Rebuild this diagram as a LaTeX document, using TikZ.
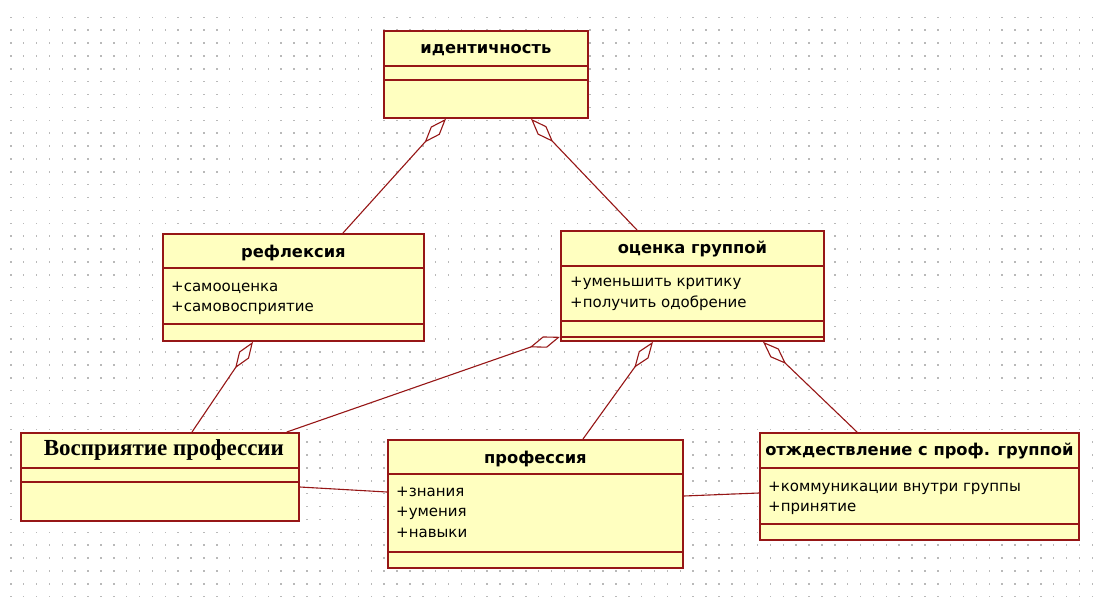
\documentclass[tikz,border=0pt]{standalone}
\usepackage{fontspec}
\setmainfont{DejaVu Sans}
\newfontfamily\serifttl{Liberation Serif}
\usetikzlibrary{arrows.meta,calc}
\definecolor{boxfill}{RGB}{255,255,192}
\definecolor{boxline}{RGB}{150,22,22}
\definecolor{dotc}{RGB}{185,185,185}
\begin{document}
\begin{tikzpicture}[x=1pt,y=-1pt,
  umlbox/.style={draw=boxline, fill=boxfill, line width=1.8pt, rectangle, anchor=north west, inner sep=0pt},
  sepline/.style={draw=boxline, line width=1.5pt},
  ttl/.style={font=\bfseries\fontsize{16.3}{19}\selectfont, inner sep=0pt},
  sttl/.style={font=\serifttl\bfseries\fontsize{23}{27}\selectfont, inner sep=0pt},
  attr/.style={font=\fontsize{15}{18}\selectfont, anchor=base west, inner sep=0pt},
  agg/.style={draw=boxline, line width=1.1pt, {Diamond[fill=white, length=32pt, width=12pt]}-},
  link/.style={draw=boxline, line width=1.1pt}]
\useasboundingbox (0,0) rectangle (1093,603);
\fill[white] (0,0) rectangle (1093,603);
% grid dots
\foreach \i in {0,...,84}{
  \foreach \j in {0,...,45}{
    \fill[dotc] ({10+\i*12.875},{16.6+\j*12.875}) rectangle +(1.5,1.5);
  }
}
% identity
\node[umlbox, minimum width=204pt, minimum height=87pt] (ident) at (383,30) {};
\draw[sepline] ([yshift=-36pt]ident.north west) -- ([yshift=-36pt]ident.north east);
\draw[sepline] ([yshift=-50pt]ident.north west) -- ([yshift=-50pt]ident.north east);
\node[ttl] (identT) at ([yshift=-20pt]ident.north) {идентичность};
% reflexia
\node[umlbox, minimum width=261pt, minimum height=107pt] (refl) at (162,233) {};
\draw[sepline] ([yshift=-35pt]refl.north west) -- ([yshift=-35pt]refl.north east);
\draw[sepline] ([yshift=-91pt]refl.north west) -- ([yshift=-91pt]refl.north east);
\node[ttl] (reflT) at ([yshift=-20pt]refl.north) {рефлексия};
\node[attr] (reflA) at ([xshift=9pt,yshift=-58.5pt]refl.north west) {+самооценка};
\node[attr] (reflB) at ([xshift=9pt,yshift=-78.5pt]refl.north west) {+самовосприятие};
% ocenka
\node[umlbox, minimum width=263pt, minimum height=110pt] (ocenka) at (560,230) {};
\draw[sepline] ([yshift=-36pt]ocenka.north west) -- ([yshift=-36pt]ocenka.north east);
\draw[sepline] ([yshift=-91pt]ocenka.north west) -- ([yshift=-91pt]ocenka.north east);
\draw[sepline] ([yshift=-107pt]ocenka.north west) -- ([yshift=-107pt]ocenka.north east);
\node[ttl] (ocenkaT) at ([yshift=-19.5pt]ocenka.north) {оценка группой};
\node[attr] (ocenkaA) at ([xshift=10pt,yshift=-56.5pt]ocenka.north west) {+уменьшить критику};
\node[attr] (ocenkaB) at ([xshift=10pt,yshift=-77.5pt]ocenka.north west) {+получить одобрение};
% vospriyatie
\node[umlbox, minimum width=278pt, minimum height=88pt] (vospr) at (20,432) {};
\draw[sepline] ([yshift=-36pt]vospr.north west) -- ([yshift=-36pt]vospr.north east);
\draw[sepline] ([yshift=-50pt]vospr.north west) -- ([yshift=-50pt]vospr.north east);
\node[sttl] (vosprT) at ([xshift=4pt,yshift=-18pt]vospr.north) {Восприятие профессии};
% professiya
\node[umlbox, minimum width=295pt, minimum height=128pt] (prof) at (387,439) {};
\draw[sepline] ([yshift=-35pt]prof.north west) -- ([yshift=-35pt]prof.north east);
\draw[sepline] ([yshift=-113pt]prof.north west) -- ([yshift=-113pt]prof.north east);
\node[ttl] (profT) at ([yshift=-19.5pt]prof.north) {профессия};
\node[attr] (profA) at ([xshift=9pt,yshift=-57.5pt]prof.north west) {+знания};
\node[attr] (profB) at ([xshift=9pt,yshift=-77.5pt]prof.north west) {+умения};
\node[attr] (profC) at ([xshift=9pt,yshift=-98.5pt]prof.north west) {+навыки};
% otzhdestvlenie
\node[umlbox, minimum width=319pt, minimum height=107pt] (otzh) at (759,432) {};
\draw[sepline] ([yshift=-36pt]otzh.north west) -- ([yshift=-36pt]otzh.north east);
\draw[sepline] ([yshift=-92pt]otzh.north west) -- ([yshift=-92pt]otzh.north east);
\node[ttl] (otzhT) at ([xshift=0pt,yshift=-19.5pt]otzh.north) {отждествление с проф. группой};
\node[attr] (otzhA) at ([xshift=9pt,yshift=-59.5pt]otzh.north west) {+коммуникации внутри группы};
\node[attr] (otzhB) at ([xshift=9pt,yshift=-79.5pt]otzh.north west) {+принятие};
% connectors
\draw[agg] ([xshift=63pt]ident.south west) -- ([xshift=181pt]refl.north west);
\draw[agg] ([xshift=148pt]ident.south west) -- ([xshift=77pt]ocenka.north west);
\draw[agg] ([xshift=91pt]refl.south west) -- ([xshift=172pt]vospr.north west);
\draw[agg] ([yshift=5pt]ocenka.south west) -- ([xshift=-13pt]vospr.north east);
\draw[agg] ([xshift=93pt]ocenka.south west) -- ([xshift=196pt]prof.north west);
\draw[agg] ([xshift=203pt]ocenka.south west) -- ([xshift=98pt]otzh.north west);
\draw[link] ([yshift=-55pt]vospr.north east) -- ([yshift=-53pt]prof.north west);
\draw[link] ([yshift=-57pt]prof.north east) -- ([yshift=-61pt]otzh.north west);
\end{tikzpicture}
\end{document}
